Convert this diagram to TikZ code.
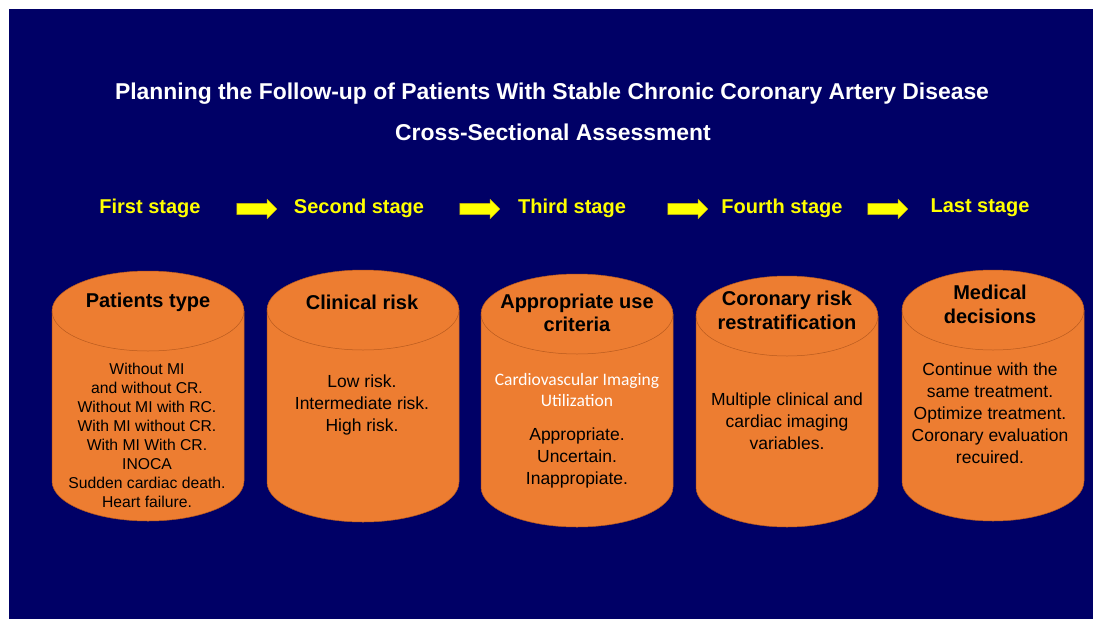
\documentclass[tikz,border=0pt]{standalone}
\usepackage{fontspec}
\setmainfont{Liberation Sans}
\newfontfamily\calibrifont{Carlito}
\usetikzlibrary{shapes.arrows}

\definecolor{navy}{HTML}{000066}
\definecolor{drumorange}{HTML}{ED7D31}
\definecolor{drumedge}{HTML}{B85A1E}
\definecolor{stageyellow}{HTML}{FFFF00}
\definecolor{arrowedge}{HTML}{C8B400}

% cylinder: centre x, x radius, y of top ellipse, y of bottom ellipse
\newcommand{\drum}[4]{%
  \filldraw[drumbody] (#1-#2,#3) -- (#1-#2,#4)
    arc[start angle=180, end angle=360, x radius=#2pt, y radius=40pt]
    -- (#1+#2,#3)
    arc[start angle=0, end angle=180, x radius=#2pt, y radius=40pt] -- cycle;
  \draw[drumrim] (#1-#2,#3)
    arc[start angle=180, end angle=360, x radius=#2pt, y radius=40pt];}

\begin{document}
\begin{tikzpicture}[x=1pt, y=-1pt,
    title/.style={text=white, inner sep=0pt,
      font=\fontsize{22.9}{27}\selectfont\bfseries},
    stage/.style={text=stageyellow, inner sep=0pt,
      font=\fontsize{20}{24}\selectfont\bfseries},
    stagearrow/.style={single arrow, fill=stageyellow, draw=arrowedge,
      line width=0.4pt, minimum height=40pt, text height=5.5pt,
      text depth=5.5pt, text width=0pt, single arrow head extend=4pt,
      single arrow head indent=0pt, inner sep=0pt},
    head/.style={align=center, inner sep=0pt,
      font=\fontsize{20}{24}\selectfont\bfseries},
    body/.style={align=center, inner sep=0pt,
      font=\fontsize{17.5}{22}\selectfont},
    drumbody/.style={fill=drumorange, draw=drumedge, line width=0.5pt},
    drumrim/.style={draw=drumedge, line width=0.5pt}
  ]
  \useasboundingbox (0,0) rectangle (1093,619);
  \fill[navy] (9,9) rectangle (1093,619);

  \node[title] (title) at (552,94)
    {Planning the Follow-up of Patients With Stable Chronic Coronary Artery Disease};
  \node[title] (subtitle) at (553,132) {Cross-Sectional Assessment};

  \node[stage] (s1) at (150,208) {First stage};
  \node[stage] (s2) at (359,208) {Second stage};
  \node[stage] (s3) at (572,208) {Third stage};
  \node[stage] (s4) at (782,208) {Fourth stage};
  \node[stage] (s5) at (980,208) {Last stage};

  \node[stagearrow] (a1) at (254,209) {};
  \node[stagearrow] (a2) at (477,209) {};
  \node[stagearrow] (a3) at (685,209) {};
  \node[stagearrow] (a4) at (885,209) {};

  \drum{148}{96}{311}{481}
  \drum{363}{96}{310}{482}
  \drum{577}{96}{314}{487}
  \drum{787}{91}{316}{487}
  \drum{993}{91}{310}{481}

  \node[head] (h1) at (148,302) {Patients type};
  \node[body, font=\fontsize{15.7}{19}\selectfont] (b1) at (147,435.5)
    {Without MI\\and without CR.\\Without MI with RC.\\With MI without CR.\\
     With MI With CR.\\INOCA\\Sudden cardiac death.\\Heart failure.};

  \node[head] (h2) at (362,302) {Clinical risk};
  \node[body] (b2) at (362,405) {Low risk.\\Intermediate risk.\\High risk.};

  \node[head, font=\fontsize{20}{23}\selectfont\bfseries] (h3) at (577,312.5)
    {Appropriate use\\criteria};
  \node[body, text=white, font=\fontsize{17.5}{21}\calibrifont] (u3) at (577,389.5)
    {Cardiovascular Imaging\\Utilization};
  \node[body] (b3) at (577,458) {Appropriate.\\Uncertain.\\Inappropiate.};

  \node[head] (h4) at (787,310) {Coronary risk\\restratification};
  \node[body] (b4) at (787,421)
    {Multiple clinical and\\cardiac imaging\\variables.};

  \node[head] (h5) at (990,304) {Medical\\decisions};
  \node[body] (b5) at (990,413.5)
    {Continue with the\\same treatment.\\Optimize treatment.\\Coronary evaluation\\recuired.};
\end{tikzpicture}
\end{document}
